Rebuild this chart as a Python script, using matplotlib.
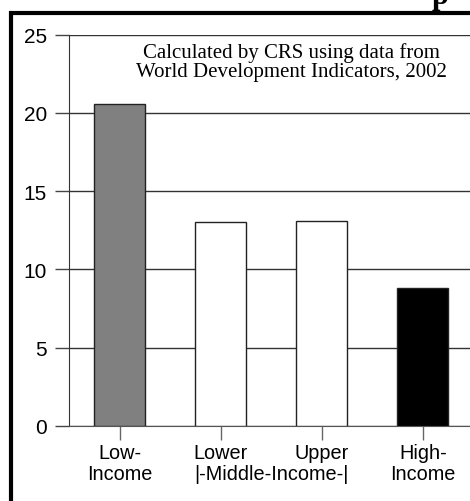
import matplotlib
matplotlib.use("Agg")
import matplotlib.pyplot as plt
from matplotlib.patches import Rectangle

# data
groups = ["Low-\nIncome", "Lower", "Upper", "High-\nIncome"]
values = [20.6, 13.05, 13.1, 8.8]
colors = ["#808080", "white", "white", "black"]
yticks = [0, 5, 10, 15, 20, 25]
note = "Calculated by CRS using data from\nWorld Development Indicators, 2002"

W, H = 470, 502
fig = plt.figure(figsize=(W / 100, H / 100), dpi=100)
ax = fig.add_axes([69 / W, 1 - 427 / H, (473.5 - 69) / W, (427 - 35.7) / H])

x = list(range(len(values)))
ax.bar(x, values, width=0.505, color=colors, edgecolor="#222222", linewidth=1, zorder=3)

ax.set_xlim(-0.5, 3.5)
ax.set_ylim(0, 25)
ax.set_yticks(yticks)
ax.set_yticklabels([str(t) for t in yticks], family="Liberation Sans", fontsize=15)
ax.yaxis.grid(True, color="#333333", linewidth=1)
ax.set_axisbelow(True)
ax.tick_params(axis="y", length=10, width=1, color="#444444", pad=6)

ax.set_xticks(x)
ax.set_xticklabels(groups, family="Liberation Sans", fontsize=14.3,
                   linespacing=1.08, va="top")
ax.tick_params(axis="x", length=10, width=1, color="#666666", pad=2.5)
ax.annotate("|-Middle-Income-|", xy=(1.5, 0), xycoords=("data", "axes fraction"),
            xytext=(0, -27.5), textcoords="offset points", ha="center", va="top",
            family="Liberation Sans", fontsize=14.3)

for side in ["top", "right"]:
    ax.spines[side].set_visible(False)
ax.spines["left"].set_color("#333333")
ax.spines["bottom"].set_color("#555555")

ax.text(0.551, 0.98, note, transform=ax.transAxes, ha="center", va="top",
        family="Liberation Serif", fontsize=15, linespacing=0.95)

# outer frame of the original figure, only left and top edges are in view
fig.add_artist(Rectangle((10.5 / W, -0.1), 1.2, 1.1 - 13.5 / H,
                         transform=fig.transFigure, fill=False,
                         edgecolor="black", linewidth=3))

# the title is cut off, only the foot of its last letter shows
fig.text(440 / W, 1 - 4 / H, "p", ha="center", va="baseline",
         family="Liberation Serif", fontweight="bold", fontsize=22)

fig.savefig("out.png", dpi=100)
